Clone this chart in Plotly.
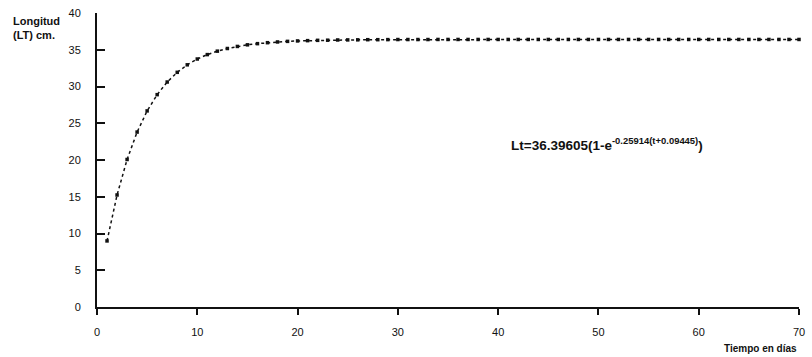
import plotly.graph_objects as go

dias = list(range(1, 71))
longitud = [
    8.99, 15.24, 20.07, 23.80, 26.68, 28.89, 30.61, 31.93, 32.95, 33.74,
    34.34, 34.81, 35.17, 35.45, 35.67, 35.83, 35.96, 36.06, 36.14, 36.20,
    36.24, 36.28, 36.30, 36.33, 36.34, 36.35, 36.37, 36.37, 36.38, 36.39,
    36.39, 36.39, 36.39, 36.40, 36.40, 36.40, 36.40, 36.40, 36.40, 36.40,
    36.40, 36.40, 36.40, 36.40, 36.40, 36.40, 36.40, 36.40, 36.40, 36.40,
    36.40, 36.40, 36.40, 36.40, 36.40, 36.40, 36.40, 36.40, 36.40, 36.40,
    36.40, 36.40, 36.40, 36.40, 36.40, 36.40, 36.40, 36.40, 36.40, 36.40,
]
x_ticks = [0, 10, 20, 30, 40, 50, 60, 70]
y_ticks = [0, 5, 10, 15, 20, 25, 30, 35, 40]

font_family = "Liberation Sans, Arial, sans-serif"

fig = go.Figure()
fig.add_trace(go.Scatter(
    x=dias, y=longitud, mode="lines+markers",
    line=dict(color="#111111", width=1.5, dash="dot"),
    marker=dict(symbol="square", size=3.5, color="#111111"),
    cliponaxis=False, showlegend=False,
))

fig.update_layout(
    width=812, height=357,
    margin=dict(l=97, r=7, t=10, b=50),
    plot_bgcolor="white", paper_bgcolor="white",
    font=dict(family=font_family, size=11, color="#111111"),
    xaxis=dict(
        range=[0, 70], tickvals=x_ticks, showgrid=False, zeroline=False,
        showline=True, linecolor="#111111", linewidth=2,
        ticks="outside", ticklen=6, tickwidth=2, tickcolor="#111111",
        ticklabelstandoff=8,
        tickfont=dict(size=11, family=font_family, color="#111111"),
    ),
    yaxis=dict(
        range=[0, 40], tickvals=y_ticks, showgrid=False, zeroline=False,
        showline=True, linecolor="#111111", linewidth=2,
        ticks="inside", ticklen=8, tickwidth=2, tickcolor="#111111",
        ticklabelstandoff=12,
        tickfont=dict(size=11, family=font_family, color="#111111"),
    ),
    annotations=[
        dict(text="<b>Longitud<br>(LT) cm.</b>", xref="paper", yref="paper",
             x=-0.123, y=1.0, xanchor="left", yanchor="top", showarrow=False,
             align="left", font=dict(size=11, family=font_family)),
        dict(text="<b>Tiempo en días</b>", xref="paper", yref="paper",
             x=1.0, y=-0.115, xanchor="right", yanchor="top", showarrow=False,
             font=dict(size=10, family=font_family)),
        dict(text="<b>Lt=36.39605(1-e<sup>-0.25914(t+0.09445)</sup>)</b>",
             xref="x", yref="y", x=50.9, y=22.2, xanchor="center", yanchor="middle",
             showarrow=False, font=dict(size=13.5, family=font_family)),
    ],
)

fig.write_html("out.html")
